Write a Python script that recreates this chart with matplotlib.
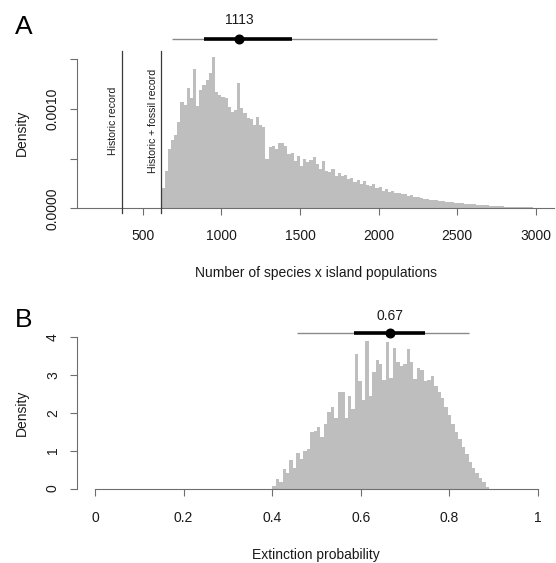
import numpy as np
import matplotlib
matplotlib.use('Agg')
import matplotlib.pyplot as plt

plt.rcParams['font.family'] = ['Liberation Sans', 'DejaVu Sans']

# ---------------- Panel A data ----------------
a_bin_start = 620
a_bin_width = 20
a_density_e3 = [
    0.20, 0.38, 0.60, 0.69, 0.74, 0.87, 1.07, 1.04, 1.21, 1.11,
    1.40, 1.03, 1.19, 1.24, 1.29, 1.36, 1.52, 1.17, 1.14, 1.12,
    1.11, 1.02, 0.97, 0.99, 1.26, 1.01, 0.96, 0.91, 0.90, 0.84,
    0.92, 0.84, 0.82, 0.50, 0.62, 0.63, 0.60, 0.66, 0.66, 0.63,
    0.55, 0.56, 0.48, 0.53, 0.43, 0.50, 0.47, 0.49, 0.52, 0.45,
    0.40, 0.48, 0.38, 0.37, 0.40, 0.33, 0.36, 0.33, 0.34, 0.29,
    0.30, 0.26, 0.28, 0.24, 0.27, 0.23, 0.22, 0.24, 0.20, 0.21,
    0.17, 0.19, 0.16, 0.17, 0.15, 0.155, 0.14, 0.145, 0.125, 0.13,
    0.11, 0.115, 0.10, 0.095, 0.09, 0.085, 0.08, 0.082, 0.07, 0.072,
    0.065, 0.06, 0.062, 0.055, 0.05, 0.052, 0.045, 0.042, 0.045, 0.038,
    0.035, 0.033, 0.03, 0.028, 0.027, 0.024, 0.022, 0.02, 0.019, 0.017,
    0.016, 0.014, 0.013, 0.012, 0.011, 0.01, 0.009, 0.008, 0.006,
]
a_xticks = [500, 1000, 1500, 2000, 2500, 3000]
a_yticks = [0.0, 0.0005, 0.0010, 0.0015]
a_yticklabels = ['0.0000', '', '0.0010', '']
a_historic = 370
a_fossil = 618
a_median = 1112
a_median_label = '1113'
a_ci50 = (892, 1447)
a_ci95 = (684, 2369)
a_xlabel = 'Number of species x island populations'

# ---------------- Panel B data ----------------
b_bin_start = 0.40
b_bin_end = 0.89
b_density = [
    0.07, 0.25, 0.18, 0.51, 0.41, 0.74, 0.53, 0.93, 0.77, 1.00,
    1.05, 1.50, 1.53, 1.63, 1.36, 1.71, 2.03, 2.16, 1.86, 2.55,
    2.55, 1.86, 2.45, 2.09, 3.56, 2.85, 2.34, 3.89, 2.44, 3.07,
    3.40, 3.28, 2.87, 3.86, 2.92, 3.72, 3.33, 3.24, 3.28, 3.67,
    3.35, 2.90, 3.18, 3.14, 2.84, 2.87, 2.97, 2.71, 2.55, 2.38,
    2.14, 1.95, 1.71, 1.49, 1.30, 1.09, 0.90, 0.70, 0.55, 0.40,
    0.27, 0.16, 0.05,
]
b_xticks = [0, 0.2, 0.4, 0.6, 0.8, 1.0]
b_xticklabels = ['0', '0.2', '0.4', '0.6', '0.8', '1']
b_yticks = [0, 1, 2, 3, 4]
b_median = 0.666
b_median_label = '0.67'
b_ci50 = (0.584, 0.744)
b_ci95 = (0.4565, 0.844)
b_xlabel = 'Extinction probability'

# ---------------- styling ----------------
W, H = 556, 563
fig = plt.figure(figsize=(W / 100, H / 100), dpi=100)
HIST = '#bebebe'
AX = '#6e6e6e'
TXT = '#1a1a1a'


def px_axes(left, top, right, bottom):
    return fig.add_axes([left / W, 1 - bottom / H, (right - left) / W, (bottom - top) / H])


def style(ax):
    for s in ['top', 'right']:
        ax.spines[s].set_visible(False)
    for s in ['left', 'bottom']:
        ax.spines[s].set_color(AX)
        ax.spines[s].set_linewidth(0.8)
    ax.tick_params(direction='out', length=5.0, width=0.8, color=AX,
                   labelsize=10, labelcolor=TXT)
    ax.tick_params(axis='y', labelrotation=90)
    for lab in ax.get_yticklabels():
        lab.set_va('center')
    ax.set_facecolor('none')


# ---------------- Panel A ----------------
axA = px_axes(77.3, 51.3, 554.0, 214.3)
edgesA = a_bin_start + a_bin_width * np.arange(len(a_density_e3) + 1)
axA.stairs(np.array(a_density_e3) * 1e-3, edgesA, fill=True, color=HIST, lw=0)
axA.set_xlim(84, 3115)
axA.set_ylim(-0.0000608, 0.001581)
axA.spines['bottom'].set_position(('data', 0))
axA.spines['left'].set_bounds(0, 0.0015)
axA.set_xticks(a_xticks)
axA.set_yticks(a_yticks)
axA.set_yticklabels(a_yticklabels)
style(axA)
axA.tick_params(axis='x', pad=10)
axA.tick_params(axis='y', pad=7.5)

for xv in (a_historic, a_fossil):
    axA.plot([xv, xv], [-0.00005, 0.001584], color='#3a3a3a', lw=0.9,
             clip_on=False, zorder=3)
axA.text(313, 0.000879, 'Historic record', rotation=90, ha='center',
         va='center', fontsize=7.6, color=TXT)
axA.text(567, 0.000882, 'Historic + fossil record', rotation=90, ha='center',
         va='center', fontsize=7.6, color=TXT)

yA = 0.0017014
axA.plot(a_ci95, [yA, yA], color='#8a8a8a', lw=1.0, clip_on=False, solid_capstyle='butt')
axA.plot(a_ci50, [yA, yA], color='black', lw=2.6, clip_on=False, solid_capstyle='butt')
axA.plot([a_median], [yA], 'o', color='black', ms=6.2, clip_on=False)
axA.text(a_median, 0.001895, a_median_label, ha='center', va='center',
         fontsize=10, color=TXT)

fig.text(21.5 / W, 1 - 133 / H, 'Density', rotation=90, ha='center',
         va='center', fontsize=10, color=TXT)
fig.text(316 / W, 1 - 273 / H, a_xlabel, ha='center', va='center',
         fontsize=10, color=TXT)
fig.text(24 / W, 1 - 27 / H, 'A', ha='center', va='center', fontsize=19,
         color='black')

# ---------------- Panel B ----------------
axB = px_axes(77.3, 330.94, 555.7, 494.56)
edgesB = np.linspace(b_bin_start, b_bin_end, len(b_density) + 1)
axB.stairs(b_density, edgesB, fill=True, color=HIST, lw=0)
axB.set_xlim(-0.04, 1.04)
axB.set_ylim(-0.16, 4.16)
axB.spines['bottom'].set_position(('data', 0))
axB.spines['bottom'].set_bounds(0, 1)
axB.spines['left'].set_bounds(0, 4)
axB.set_xticks(b_xticks)
axB.set_xticklabels(b_xticklabels)
axB.set_yticks(b_yticks)
style(axB)
axB.tick_params(axis='x', pad=11.5)
axB.tick_params(axis='y', pad=7.5)

yB = 4.106
axB.plot(b_ci95, [yB, yB], color='#8a8a8a', lw=1.0, clip_on=False, solid_capstyle='butt')
axB.plot(b_ci50, [yB, yB], color='black', lw=2.6, clip_on=False, solid_capstyle='butt')
axB.plot([b_median], [yB], 'o', color='black', ms=6.2, clip_on=False)
axB.text(b_median, 4.55, b_median_label, ha='center', va='center',
         fontsize=10, color=TXT)

fig.text(21.5 / W, 1 - 413 / H, 'Density', rotation=90, ha='center',
         va='center', fontsize=10, color=TXT)
fig.text(316 / W, 1 - 555 / H, b_xlabel, ha='center', va='center',
         fontsize=10, color=TXT)
fig.text(24 / W, 1 - 320 / H, 'B', ha='center', va='center', fontsize=19,
         color='black')

fig.savefig('out.png', dpi=100)
